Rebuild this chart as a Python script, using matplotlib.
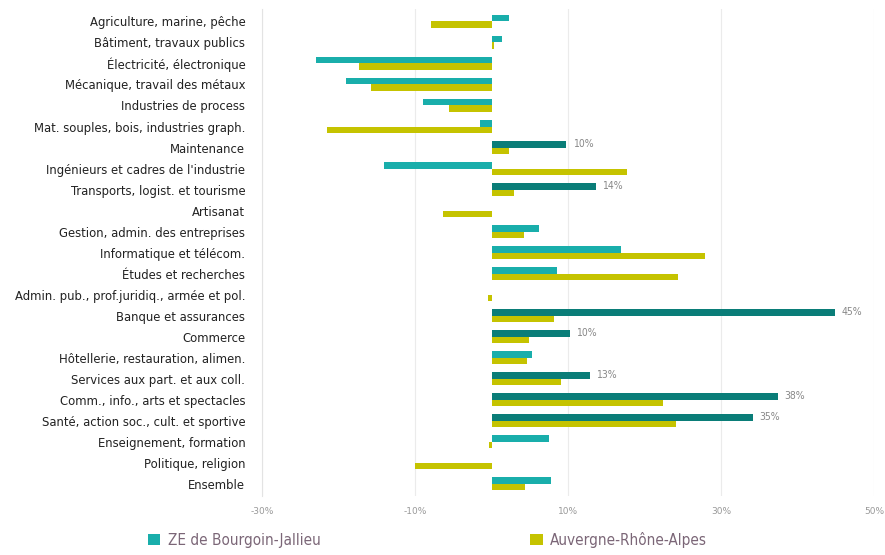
import matplotlib
matplotlib.use("Agg")
import matplotlib.pyplot as plt
from matplotlib.patches import Patch
import numpy as np

categories = [
    "Agriculture, marine, pêche",
    "Bâtiment, travaux publics",
    "Électricité, électronique",
    "Mécanique, travail des métaux",
    "Industries de process",
    "Mat. souples, bois, industries graph.",
    "Maintenance",
    "Ingénieurs et cadres de l'industrie",
    "Transports, logist. et tourisme",
    "Artisanat",
    "Gestion, admin. des entreprises",
    "Informatique et télécom.",
    "Études et recherches",
    "Admin. pub., prof.juridiq., armée et pol.",
    "Banque et assurances",
    "Commerce",
    "Hôtellerie, restauration, alimen.",
    "Services aux part. et aux coll.",
    "Comm., info., arts et spectacles",
    "Santé, action soc., cult. et sportive",
    "Enseignement, formation",
    "Politique, religion",
    "Ensemble",
]

ze_values = [2.3, 1.4, -23.0, -19.0, -9.0, -1.5, 9.8, -14.0, 13.7, 0.0,
             6.2, 16.9, 8.5, 0.0, 44.9, 10.3, 5.3, 12.9, 37.5, 34.2,
             7.5, 0.0, 7.8]
ara_values = [-7.9, 0.3, -17.3, -15.8, -5.5, -21.5, 2.3, 17.7, 3.0, -6.3,
              4.2, 27.9, 24.4, -0.5, 8.2, 4.9, 4.6, 9.1, 22.4, 24.1,
              -0.3, -10.0, 4.4]
ze_labels = ["", "", "", "", "", "", "10%", "", "14%", "",
             "", "", "", "", "45%", "10%", "", "13%", "38%", "35%",
             "", "", ""]

series_names = ["ZE de Bourgoin-Jallieu", "Auvergne-Rhône-Alpes"]
x_ticks = [-30, -10, 10, 30, 50]
x_tick_labels = ["-30%", "-10%", "10%", "30%", "50%"]

teal = "#19aeab"
teal_dark = "#0a7d78"
olive = "#c5c300"

fig = plt.figure(figsize=(8.85, 5.55), dpi=100)
ax = fig.add_axes([262 / 885, 0.106, (874 - 262) / 885, 0.984 - 0.106])

y = np.arange(len(categories))
h = 0.33
ze_colors = [teal_dark if lab else teal for lab in ze_labels]
ax.barh(y - h / 2, ze_values, height=h, color=ze_colors, zorder=3)
ax.barh(y + h / 2, ara_values, height=h, color=olive, zorder=3)

for yi, v, lab in zip(y, ze_values, ze_labels):
    if lab:
        ax.text(v + 0.8, yi - h / 2, lab, va="center", ha="left",
                fontsize=7.5, color="#888888", family="DejaVu Sans",
                fontstretch="condensed")

ax.set_xlim(-30, 50)
ax.set_ylim(len(categories) - 0.4, -0.6)
ax.set_xticks(x_ticks)
ax.set_xticklabels(x_tick_labels, fontsize=6.5, color="#999999")
ax.set_yticks(y)
ax.set_yticklabels(categories, fontsize=8.4, color="#222222")
ax.tick_params(axis="both", length=0)
ax.tick_params(axis="x", pad=8)
ax.tick_params(axis="y", pad=12)
ax.grid(axis="x", color="#ebebeb", linewidth=0.8, zorder=0)
for s in ["top", "right", "bottom"]:
    ax.spines[s].set_visible(False)
ax.spines["left"].set_color("#e3e3e3")
ax.spines["left"].set_linewidth(0.8)

handles = [Patch(facecolor=teal, edgecolor="none"), Patch(facecolor=olive, edgecolor="none")]
fig.legend(handles, series_names, loc="lower left", bbox_to_anchor=(134 / 885, -0.012),
           ncol=2, frameon=False, labelcolor="#7b6677",
           handlelength=0.8, handleheight=0.8, handletextpad=0.5, columnspacing=13.75,
           prop={"family": "DejaVu Sans", "stretch": "condensed", "size": 11})

fig.savefig("out.png", dpi=100)
